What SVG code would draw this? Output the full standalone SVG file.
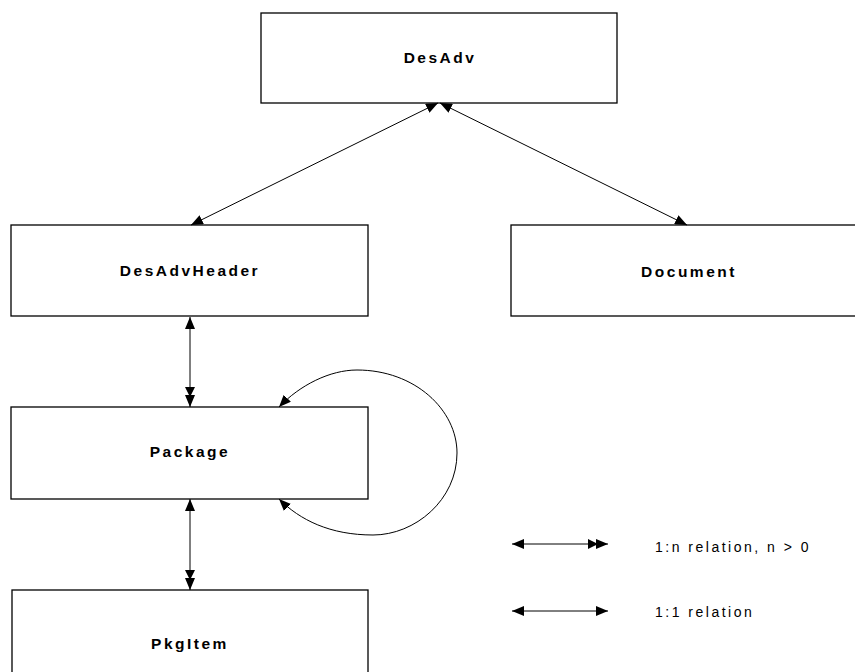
<svg xmlns="http://www.w3.org/2000/svg" width="855" height="672" viewBox="0 0 855 672">
<style>
.box{fill:#fff;stroke:#000;stroke-width:1.3}
.lbl{font-family:"Liberation Sans",Arial,sans-serif;font-weight:bold;font-size:15.5px;letter-spacing:2.5px;text-anchor:middle;fill:#000}
.leg{font-family:"Liberation Sans",Arial,sans-serif;font-size:14px;letter-spacing:2.5px;fill:#000}
.c{fill:none;stroke:#000;stroke-width:1}
</style>
<defs>
<marker id="a" viewBox="0 0 12 10" refX="12" refY="5" markerWidth="12" markerHeight="10" markerUnits="userSpaceOnUse" orient="auto-start-reverse"><path d="M0,0 L12,5 L0,10 Z" fill="#000"/></marker>
<marker id="aa" viewBox="0 0 20 10" refX="20" refY="5" markerWidth="20" markerHeight="10" markerUnits="userSpaceOnUse" orient="auto"><path d="M0,0 L10,5 L0,10 Z M8,0 L20,5 L8,10 Z" fill="#000"/></marker>
</defs>
<g id="DesAdv"><rect class="box" x="261" y="13" width="356" height="90"/><text class="lbl" x="440" y="63">DesAdv</text></g>
<g id="DesAdvHeader"><rect class="box" x="11" y="225" width="357" height="91"/><text class="lbl" x="190" y="276">DesAdvHeader</text></g>
<g id="Document"><rect class="box" x="511" y="225" width="353" height="91"/><text class="lbl" x="689" y="277">Document</text></g>
<g id="Package"><rect class="box" x="11" y="407" width="357" height="92"/><text class="lbl" x="190" y="457">Package</text></g>
<g id="PkgItem"><rect class="box" x="12" y="590" width="356" height="92"/><text class="lbl" x="190" y="649">PkgItem</text></g>
<g id="connectors">
<line class="c" x1="438" y1="103" x2="191" y2="225" marker-start="url(#a)" marker-end="url(#a)"/>
<line class="c" x1="440" y1="103" x2="687" y2="225" marker-start="url(#a)" marker-end="url(#a)"/>
<line class="c" x1="190" y1="317" x2="190" y2="407" marker-start="url(#a)" marker-end="url(#aa)"/>
<line class="c" x1="190" y1="499" x2="190" y2="590" marker-start="url(#a)" marker-end="url(#aa)"/>
<path class="c" d="M279,407 C300,385 330,370 357,370 C415,370 457,410 457,453 C457,500 415,535 373,535 C330,535 300,520 279,499" marker-start="url(#a)" marker-end="url(#a)"/>
</g>
<g id="legend">
<line class="c" x1="512" y1="544" x2="608" y2="544" marker-start="url(#a)" marker-end="url(#aa)"/>
<text class="leg" x="655" y="552">1:n relation, n &gt; 0</text>
<line class="c" x1="512" y1="611" x2="608" y2="611" marker-start="url(#a)" marker-end="url(#a)"/>
<text class="leg" x="655" y="617">1:1 relation</text>
</g>
</svg>
